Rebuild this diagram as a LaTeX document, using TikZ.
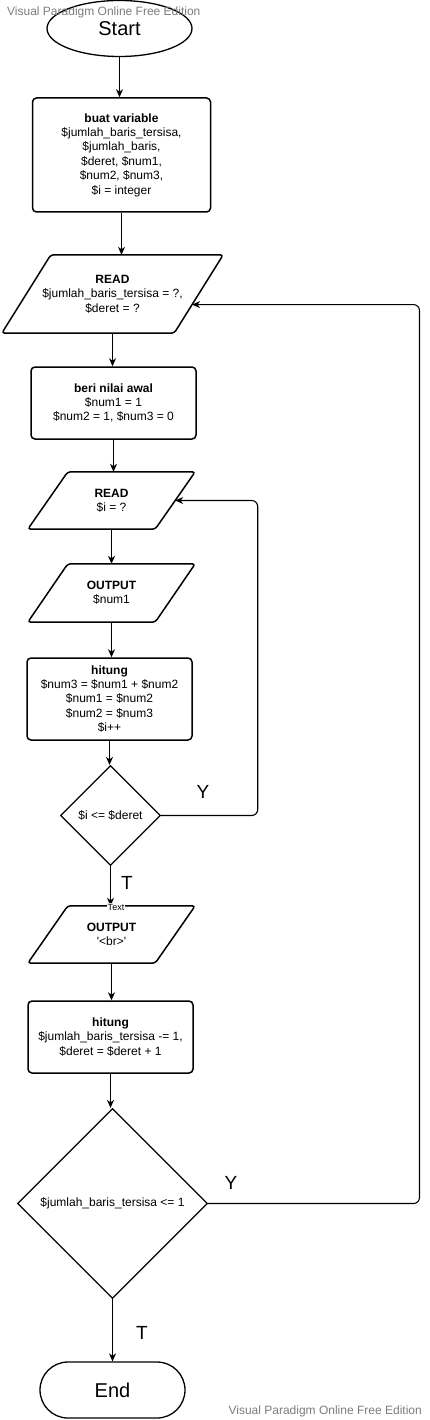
\documentclass[tikz,border=0pt]{standalone}
\usepackage{fontspec}
\setmainfont{Liberation Sans}
\usepackage{tikz}
\usetikzlibrary{arrows.meta, shapes.geometric, calc}

\definecolor{wmgray}{RGB}{125,125,125}

% parallelogram frame round a text node: #1 = node name, #2 = half of the slant
\newcommand{\ioframe}[2]{%
  \coordinate (#1 tl) at ([xshift=#2]#1.north west);
  \coordinate (#1 tr) at ([xshift=#2]#1.north east);
  \coordinate (#1 br) at ([xshift=-#2]#1.south east);
  \coordinate (#1 bl) at ([xshift=-#2]#1.south west);
  \draw[iofrm] (#1 tl) -- (#1 tr) -- (#1 br) -- (#1 bl) -- cycle;}

\begin{document}
\begin{tikzpicture}[x=1pt, y=-1pt, >={Stealth[length=8pt, width=7pt, inset=2.5pt]},
    every node/.style={font=\fontsize{12}{14.4}\selectfont, align=center},
    proc/.style={draw, rounded corners=4pt, line width=1.5pt, inner sep=0pt},
    iotxt/.style={inner sep=0pt},
    iofrm/.style={rounded corners=3pt, line width=1.5pt},
    cond/.style={diamond, draw, aspect=1, line width=1.2pt, inner sep=1pt},
    term/.style={draw, line width=1.3pt, font=\fontsize{20}{24}\selectfont},
    arr/.style={->, line width=1.1pt},
    lbl/.style={font=\fontsize{19}{22}\selectfont},
    wm/.style={font=\fontsize{12}{14}\selectfont, text=wmgray, inner sep=0pt}]
  \path[use as bounding box, fill=white] (0,0) rectangle (429,1420);

  % ==================== langkah-langkah ====================
  \node[term, ellipse, minimum width=145, minimum height=56] (start) at (119.5,28.5) {Start};
  \node[proc, minimum width=178, minimum height=114] (var) at (121.5,155)
    {\textbf{buat variable}\\ \$jumlah\_baris\_tersisa,\\ \$jumlah\_baris,\\ \$deret, \$num1,\\ \$num2, \$num3,\\ \$i = integer};
  \node[iotxt, minimum width=172, minimum height=78] (read1) at (112.5,294)
    {\textbf{READ}\\ \$jumlah\_baris\_tersisa = ?,\\ \$deret = ?};
  \ioframe{read1}{24.5pt}
  \node[proc, minimum width=165, minimum height=72] (init) at (113.5,403)
    {\textbf{beri nilai awal}\\ \$num1 = 1\\ \$num2 = 1, \$num3 = 0};
  \node[iotxt, minimum width=127, minimum height=57] (read2) at (111.5,500.5)
    {\textbf{READ}\\ \$i = ?};
  \ioframe{read2}{20pt}
  \node[iotxt, minimum width=127, minimum height=58] (out1) at (111.5,593)
    {\textbf{OUTPUT}\\ \$num1};
  \ioframe{out1}{20pt}
  \node[proc, minimum width=165, minimum height=82] (calc1) at (109.5,699)
    {\textbf{hitung}\\ \$num3 = \$num1 + \$num2\\ \$num1 = \$num2\\ \$num2 = \$num3\\ \$i++};
  \node[cond, minimum width=100, minimum height=100] (cek1) at (110.5,815.5) {\$i <= \$deret};
  \node[iotxt, minimum width=127, minimum height=57] (out2) at (111.5,934.5)
    {\textbf{OUTPUT}\\ \textquotesingle<br>\textquotesingle};
  \ioframe{out2}{20pt}
  \node[proc, minimum width=165, minimum height=72] (calc2) at (110.5,1037)
    {\textbf{hitung}\\ \$jumlah\_baris\_tersisa -= 1,\\ \$deret = \$deret + 1};
  \node[cond, minimum width=190, minimum height=190] (cek2) at (112.5,1203.5) {\$jumlah\_baris\_tersisa <= 1};
  \node[term, rounded corners=28pt, minimum width=145, minimum height=56] (stop) at (112.5,1390) {End};

  % ==================== panah (lurus ke bawah) ====================
  \draw[arr] (start.south) -- (start.south |- var.north);
  \draw[arr] (var.south) -- (var.south |- read1.north);
  \draw[arr] (read1.south) -- (read1.south |- init.north);
  \draw[arr] (init.south) -- (init.south |- read2.north);
  \draw[arr] (read2.south) -- (read2.south |- out1.north);
  \draw[arr] (out1.south) -- (out1.south |- calc1.north);
  \draw[arr] (calc1.south) -- (calc1.south |- cek1.north);
  \draw[arr] (cek1.south) -- (cek1.south |- out2.north);
  \draw[arr] (out2.south) -- (out2.south |- calc2.north);
  \draw[arr] (calc2.south) -- (calc2.south |- cek2.north);
  \draw[arr] (cek2.south) -- (cek2.south |- stop.north);

  % loop kembali (Y)
  \coordinate (read1 in) at ($(read1 tr)!0.635!(read1 br)$);
  \draw[arr, rounded corners=6pt] (cek1.east) -| ([xshift=82.5pt]read2.east) -- (read2.east);
  \draw[arr, rounded corners=6pt] (cek2.east) -| ([xshift=227.4pt]read1 in) -- (read1 in);

  % label Y / T
  \node[lbl] (y1) at (203,792) {Y};
  \node[lbl] (t1) at (127,883) {T};
  \node[fill=white, inner sep=0.5pt, font=\fontsize{9}{10}\selectfont] (txt) at (116,907) {Text};
  \node[lbl] (y2) at (231,1183) {Y};
  \node[lbl] (t2) at (142,1333) {T};

  % watermark
  \node[wm, anchor=west] (wm1) at (7,12) {Visual Paradigm Online Free Edition};
  \node[wm, anchor=east] (wm2) at (422,1411) {Visual Paradigm Online Free Edition};
\end{tikzpicture}
\end{document}
